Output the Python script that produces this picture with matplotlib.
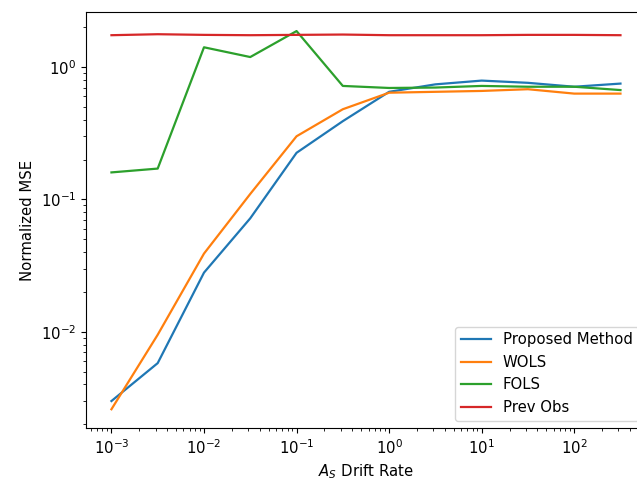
import numpy as np
import matplotlib
matplotlib.use("Agg")
import matplotlib.pyplot as plt

# drift rates: 10^-3 ... 10^2.5 in half-decade steps
drift_rate = [1e-3, 3.16e-3, 1e-2, 3.16e-2, 1e-1, 3.16e-1,
              1e0, 3.16e0, 1e1, 3.16e1, 1e2, 3.16e2]

proposed = [0.0030, 0.0058, 0.028, 0.072, 0.225, 0.39,
            0.65, 0.74, 0.79, 0.76, 0.71, 0.75]
wols = [0.0026, 0.0095, 0.039, 0.11, 0.30, 0.48,
        0.64, 0.65, 0.66, 0.68, 0.63, 0.63]
fols = [0.16, 0.171, 1.41, 1.19, 1.87, 0.72,
        0.695, 0.70, 0.72, 0.71, 0.71, 0.67]
prev_obs = [1.74, 1.77, 1.75, 1.74, 1.75, 1.76,
            1.74, 1.74, 1.74, 1.75, 1.75, 1.74]

plt.rcParams['font.size'] = 10.7
plt.rcParams['lines.linewidth'] = 1.6

fig = plt.figure(figsize=(6.37, 4.86), dpi=100)
ax = fig.add_axes([0.135, 0.119, 0.879, 0.856])

ax.plot(drift_rate, proposed, label='Proposed Method')
ax.plot(drift_rate, wols, label='WOLS')
ax.plot(drift_rate, fols, label='FOLS')
ax.plot(drift_rate, prev_obs, label='Prev Obs')
ax.set_xscale('log')
ax.set_yscale('log')
ax.set_xlabel('$A_S$ Drift Rate')
ax.set_ylabel('Normalized MSE')
ax.legend(loc='lower right')

fig.savefig('out.png', dpi=100)
